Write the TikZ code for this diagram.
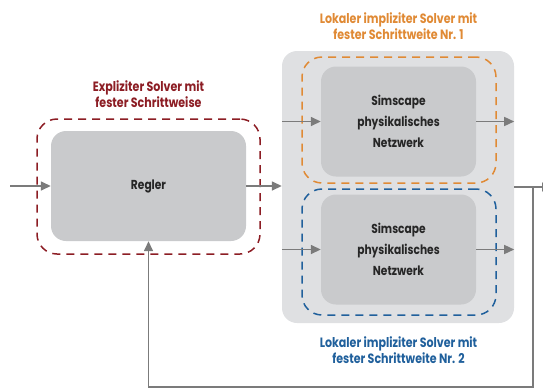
\documentclass[tikz,border=0pt]{standalone}
\usepackage{fontspec}
\setmainfont{Poppins}[FakeStretch=0.82]
\usepackage{tikz}
\usetikzlibrary{arrows.meta}
\definecolor{block-gray}{HTML}{C9CACC}
\definecolor{area-gray}{HTML}{DFE0E2}
\definecolor{line-gray}{HTML}{7B7B7B}
\definecolor{frame-red}{HTML}{8C1D24}
\definecolor{frame-orange}{HTML}{E08A35}
\definecolor{frame-blue}{HTML}{20609C}
\tikzset{
    block-box/.style = {fill=block-gray, rectangle, rounded corners=15pt, text=black!85, font=\fontsize{13}{21}\selectfont\bfseries, align=center, inner sep=0pt},
    solver-frame/.style = {draw=#1, rectangle, rounded corners=20pt, line width=1.5pt, dash pattern=on 8pt off 6pt, inner sep=0pt},
    solver-title/.style = {text=#1, font=\fontsize{13.5}{16}\selectfont\bfseries, align=center},
    flow-arrow/.style = {draw=line-gray, line width=1.5pt, -{Triangle[length=10pt, width=9pt]}},
    flow-line/.style = {draw=line-gray, line width=1.5pt},
}

\begin{document}
\begin{tikzpicture}[x=1pt, y=-1pt]
\useasboundingbox (0,0) rectangle (543,389);
% explicit part
\node [block-box, minimum width=195pt, minimum height=110pt] (regler) at (148.5,186) {Regler};
\node [solver-frame=frame-red, minimum width=223pt, minimum height=135pt] (frame-expl) at (148.5,186.5) {};
\node [solver-title=frame-red] (title-expl) at (148.5,94) {Expliziter Solver mit\\fester Schrittweise};
% local implicit part
\node [fill=area-gray, rectangle, rounded corners=15pt, minimum width=232pt, minimum height=272pt] (area) at (398,187) {};
\node [block-box, minimum width=155pt, minimum height=110pt] (net-one) at (398.5,121.5) {Simscape\\physikalisches\\Netzwerk};
\node [block-box, minimum width=155pt, minimum height=110pt] (net-two) at (398.5,249.5) {Simscape\\physikalisches\\Netzwerk};
\node [solver-frame=frame-orange, minimum width=194pt, minimum height=126pt] (frame-one) at (399,120) {};
\node [solver-frame=frame-blue, minimum width=194pt, minimum height=126pt] (frame-two) at (399,252) {};
\node [solver-title=frame-orange] (title-one) at (398.5,26) {Lokaler impliziter Solver mit\\fester Schrittweite Nr. 1};
\node [solver-title=frame-blue] (title-two) at (398.5,350) {Lokaler impliziter Solver mit\\fester Schrittweite Nr. 2};
% signals
\coordinate (input) at (10,186);
\coordinate (tap) at (533,187);
\coordinate (output) at (552,187);
\coordinate (bottom) at (0,387);
\draw [flow-arrow] (input) -- (regler.west);
\draw [flow-arrow] (regler.east) -- (regler.east -| area.west);
\draw [flow-arrow] (net-one.west -| area.west) -- (net-one.west);
\draw [flow-arrow] (net-two.west -| area.west) -- (net-two.west);
\draw [flow-arrow] (net-one.east) -- (net-one.east -| area.east);
\draw [flow-arrow] (net-two.east) -- (net-two.east -| area.east);
\draw [flow-arrow] (area.east) -- (output);
\draw [flow-arrow] (tap) |- (regler.south |- bottom) -- (regler.south);
\end{tikzpicture}
\end{document}
